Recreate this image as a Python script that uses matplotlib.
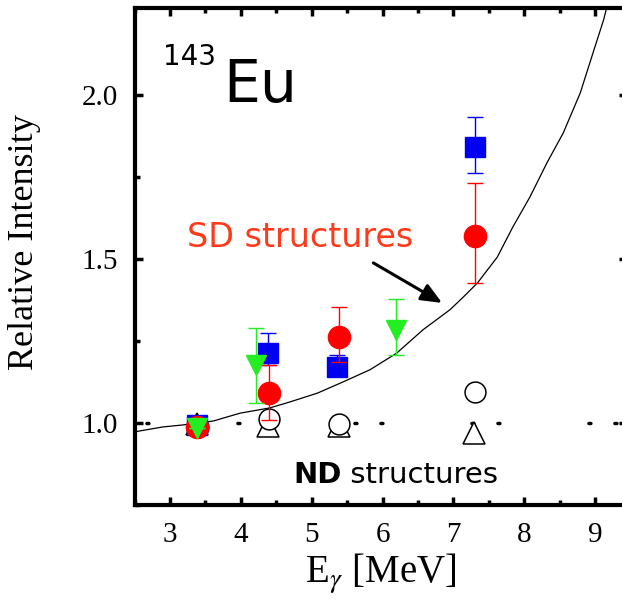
import matplotlib.pyplot as plt

plt.rcParams['lines.scale_dashes'] = False
plt.rcParams['mathtext.fontset'] = 'stix'
plt.rcParams['font.family'] = ['Liberation Serif', 'DejaVu Serif']

# statistical-model curve (SD/ND ratio)
curve_e = [2.50, 2.90, 3.18, 3.61, 3.99, 4.41, 4.69, 5.08, 5.44, 5.82, 6.20,
           6.57, 6.95, 7.14, 7.34, 7.62, 7.84, 8.08, 8.32, 8.55, 8.79, 8.97,
           9.12, 9.18]
curve_i = [0.973, 0.988, 0.994, 1.006, 1.030, 1.046, 1.064, 1.091, 1.125,
           1.162, 1.213, 1.284, 1.345, 1.384, 1.427, 1.506, 1.598, 1.689,
           1.793, 1.884, 2.006, 2.128, 2.229, 2.280]

# SD bands
sq_e = [3.38, 4.38, 5.36, 7.31]
sq_i = [0.994, 1.213, 1.170, 1.840]
sq_lo = [0.0, 0.036, 0.025, 0.078]
sq_hi = [0.0, 0.061, 0.037, 0.093]

ci_e = [3.38, 4.40, 5.39, 7.31]
ci_i = [0.988, 1.091, 1.262, 1.570]
ci_lo = [0.0, 0.082, 0.076, 0.143]
ci_hi = [0.0, 0.086, 0.092, 0.162]

tr_e = [3.38, 4.21, 6.19]
tr_i = [0.985, 1.177, 1.284]
tr_lo = [0.0, 0.116, 0.077]
tr_hi = [0.0, 0.113, 0.094]

# ND bands
nd_circ_e = [3.40, 4.40, 5.38, 7.31]
nd_circ_i = [0.988, 1.012, 0.997, 1.094]
nd_tri_e = [3.38, 4.38, 5.38, 7.29]
nd_tri_i = [0.997, 0.990, 0.990, 0.970]

ref_level = 1.0

fig = plt.figure(figsize=(6.22, 6.06), dpi=100)
ax = fig.add_axes([134.6 / 622, 1 - 505 / 606, (627 - 134.6) / 622, 497 / 606])
ax.set_xlim(2.5, 9.45)
ax.set_ylim(0.75, 2.265)

ax.plot([2.5, 9.45], [ref_level, ref_level], color='black', lw=2.5,
        dash_capstyle='round', linestyle=(10.5, (1.44, 17.28, 1.44, 64.08)),
        zorder=1)

ax.plot(nd_tri_e, nd_tri_i, linestyle='none', marker='^', ms=16,
        mfc='white', mec='black', mew=1.1, zorder=2)
ax.plot(nd_circ_e, nd_circ_i, linestyle='none', marker='o', ms=15,
        mfc='white', mec='black', mew=1.1, zorder=3)

ax.plot(curve_e, curve_i, color='black', lw=0.9, zorder=4)

ax.errorbar(sq_e, sq_i, yerr=[sq_lo, sq_hi], fmt='s', ms=14, color='#0000f0',
            ecolor='#0000f0', elinewidth=1.0, capsize=6, capthick=1.0, zorder=5)
ax.errorbar(ci_e, ci_i, yerr=[ci_lo, ci_hi], fmt='o', ms=16, color='#ff0000',
            ecolor='#ff0000', elinewidth=1.0, capsize=6, capthick=1.0, zorder=6)
ax.errorbar(tr_e, tr_i, yerr=[tr_lo, tr_hi], fmt='v', ms=15, color='#22ee22',
            ecolor='#22ee22', elinewidth=1.0, capsize=6, capthick=1.0, zorder=7)

ax.annotate('', xy=(6.84, 1.366), xytext=(5.87, 1.488),
            arrowprops=dict(arrowstyle='-|>,head_length=0.7,head_width=0.3',
                            lw=2.2, color='black', mutation_scale=18,
                            shrinkA=0, shrinkB=0), zorder=8)

ax.text(3.24, 1.537, 'SD structures', color='#ff3a1a', fontsize=24,
        family='DejaVu Sans', ha='left', va='baseline')
nd = ax.text(4.737, 0.817, 'ND', color='black', fontsize=21,
             family='DejaVu Sans', fontweight='bold', ha='left', va='baseline')
ax.annotate(' structures', xy=(1, 0), xycoords=nd, color='black', fontsize=21,
            family='DejaVu Sans', ha='left', va='bottom')

ax.text(2.90, 2.091, '143', fontsize=20, family='DejaVu Sans',
        ha='left', va='baseline')
ax.text(3.75, 1.979, 'Eu', fontsize=42, family='DejaVu Sans',
        ha='left', va='baseline')

ax.set_xticks([3, 4, 5, 6, 7, 8, 9])
ax.set_xticks([2.5, 3.5, 4.5, 5.5, 6.5, 7.5, 8.5], minor=True)
ax.set_yticks([1.0, 1.5, 2.0])
ax.set_yticks([0.75, 1.25, 1.75], minor=True)
ax.set_yticklabels(['1.0', '1.5', '2.0'])
ax.tick_params(which='both', direction='in', top=True, right=True,
               labelsize=21, width=2.5, pad=12)
ax.tick_params(which='major', length=5.5)
ax.tick_params(which='minor', length=3.5)
for side in ['left', 'bottom', 'top', 'right']:
    ax.spines[side].set_linewidth(3)

ax.set_xlabel(r'E$_\gamma$ [MeV]', fontsize=28, labelpad=3)
ax.set_ylabel('Relative Intensity', fontsize=26)
ax.yaxis.set_label_coords(-0.19, 0.53)

fig.savefig('out.png', dpi=100)
